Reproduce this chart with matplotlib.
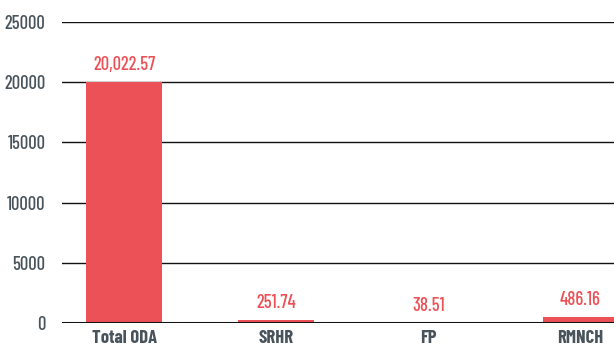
import matplotlib
matplotlib.use("Agg")
import matplotlib.pyplot as plt
from matplotlib.ticker import FixedLocator

categories = ["Total ODA", "SRHR", "FP", "RMNCH"]
values = [20022.57, 251.74, 38.51, 486.16]
yticks = [0, 5000, 10000, 15000, 20000, 25000]

bar_color = "#EB5156"
text_color = "#48535B"

plt.rcParams["font.family"] = ["Barlow Condensed", "DejaVu Sans"]

fig = plt.figure(figsize=(6.14, 3.5), dpi=100)
ax = fig.add_axes([0.101, 0.077, 0.899, 0.86])

x = list(range(len(categories)))
ax.bar(x, values, width=0.5, color=bar_color, zorder=3)

# value labels sit a fixed distance above each bar
for xi, v in zip(x, values):
    ax.text(xi, v + 1000, f"{v:,.2f}", ha="center", va="baseline",
            color=bar_color, fontsize=13.4, fontweight="medium")

ax.set_ylim(0, 25000)
ax.set_xlim(-0.41, 3.22)
ax.yaxis.set_major_locator(FixedLocator(yticks))
ax.grid(axis="y", color="#111111", linewidth=1.0, zorder=1)
ax.axhline(0, color="#111111", linewidth=2.2, zorder=4)

ax.set_xticks(x)
ax.set_xticklabels(categories, fontweight="bold", color=text_color, fontsize=13.4)
ax.set_yticks(yticks)
ax.set_yticklabels([str(t) for t in yticks], fontweight="medium")
ax.tick_params(axis="y", labelcolor=text_color, labelsize=13.4, length=0, pad=12)
ax.tick_params(axis="x", length=0, pad=5)

for s in ax.spines.values():
    s.set_visible(False)

fig.savefig("out.png", dpi=100)
